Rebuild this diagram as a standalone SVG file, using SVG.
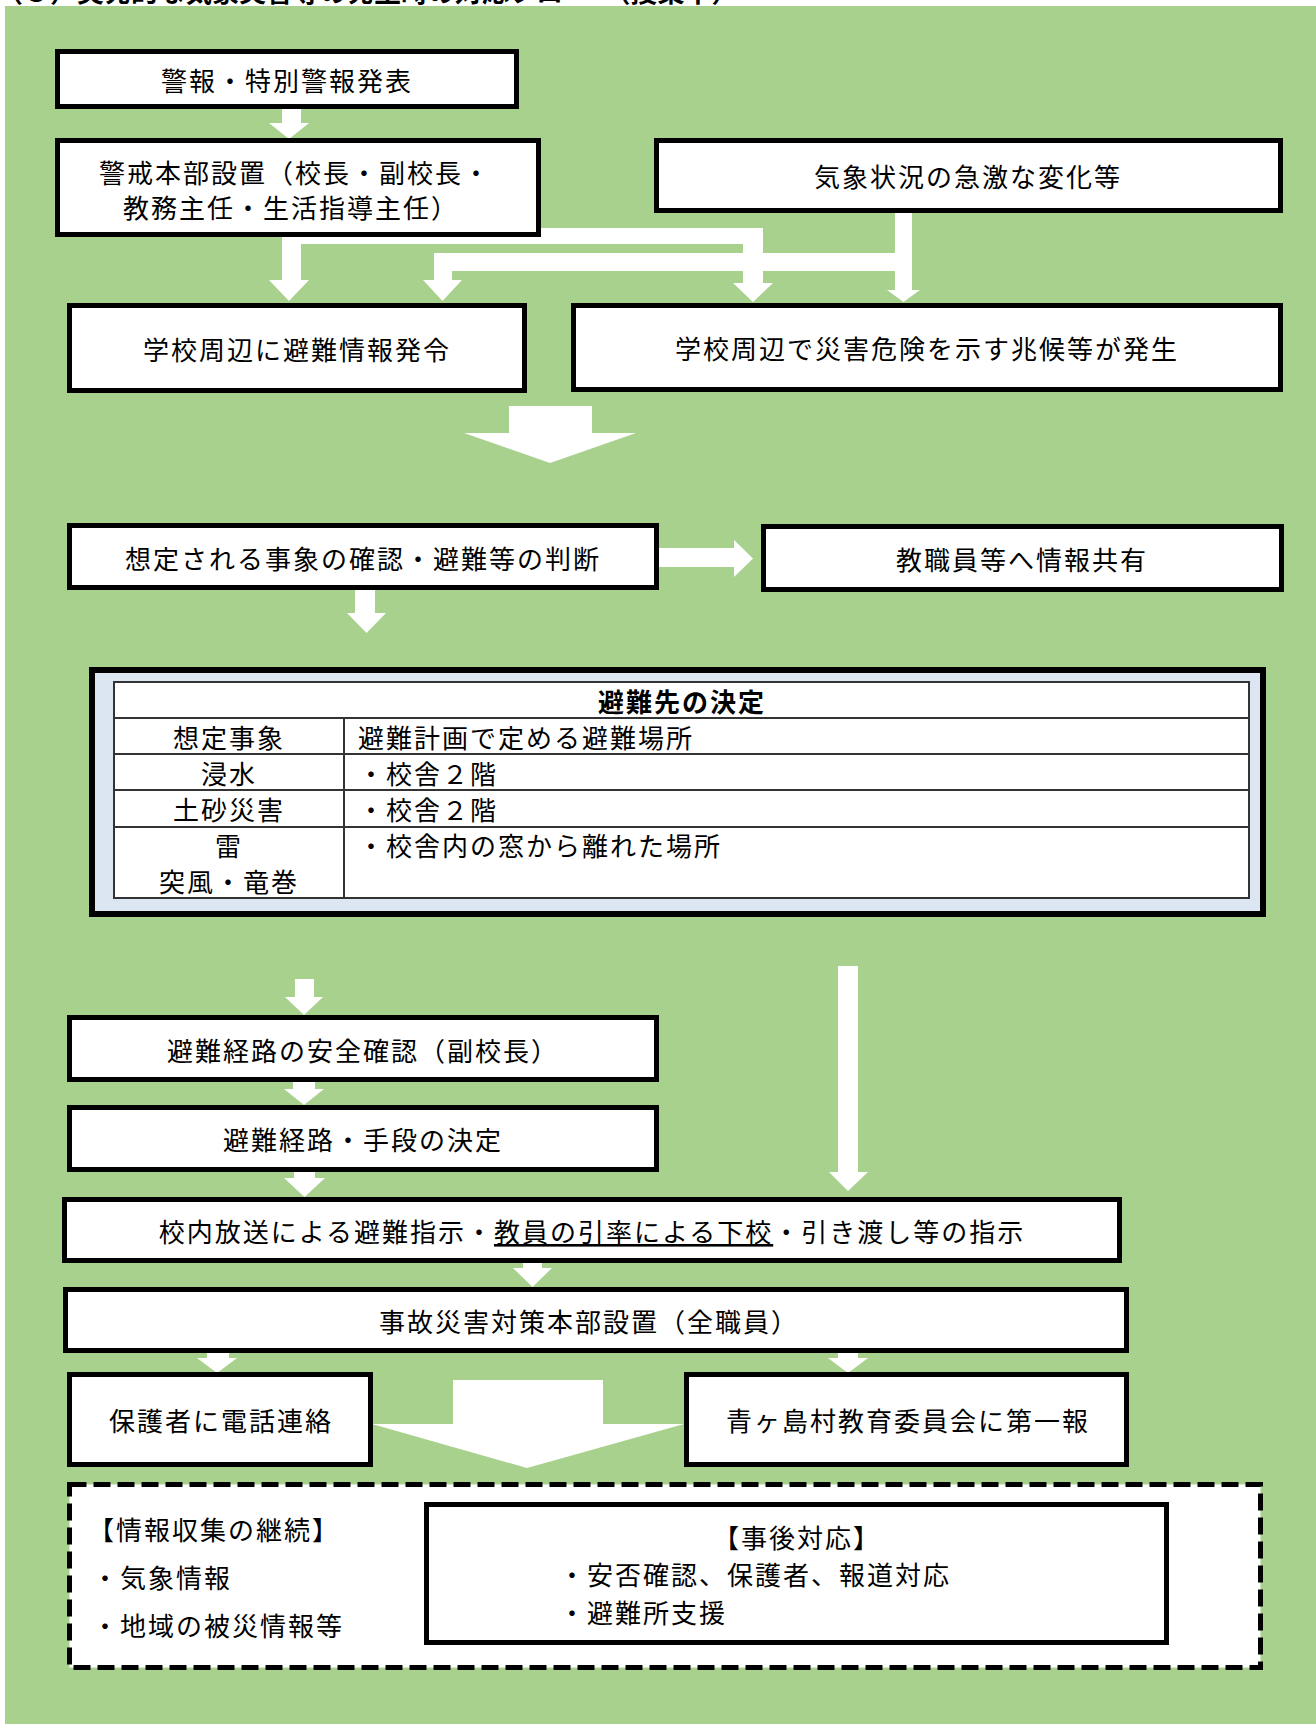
<svg xmlns="http://www.w3.org/2000/svg" width="1316" height="1724" viewBox="0 0 1316 1724">
<style>
.bx{fill:#fff;stroke:#000;stroke-width:5}
.ar{fill:#fff}
text{font-family:"Noto Sans CJK JP","Noto Sans",sans-serif;font-size:26px;letter-spacing:2px;fill:#000;dominant-baseline:central}
.c{text-anchor:middle}
.tl{stroke:#333;stroke-width:2;fill:none}
</style>
<rect x="0" y="0" width="1316" height="1724" fill="#fff"/>
<text x="-4" y="2" style="font-size:27px;font-weight:bold;letter-spacing:0;dominant-baseline:auto">（３）突発的な気象災害等の発生時の対応フロー　（授業中）</text>
<rect x="5" y="6" width="1311" height="1718" fill="#a9d18e"/>

<g id="connectors">
  <rect class="ar" x="282" y="108" width="19" height="16"/>
  <polygon class="ar" points="269,123 309,123 289,139"/>
  <rect class="ar" x="282" y="228" width="19" height="53"/>
  <polygon class="ar" points="269,280 309,280 289,301"/>
  <rect class="ar" x="282" y="228" width="481" height="16"/>
  <rect class="ar" x="743" y="228" width="20" height="56"/>
  <polygon class="ar" points="733,283 773,283 753,302"/>
  <rect class="ar" x="895" y="211" width="17" height="80"/>
  <polygon class="ar" points="887,290 920,290 903.5,302"/>
  <rect class="ar" x="434" y="253" width="478" height="18"/>
  <rect class="ar" x="434" y="253" width="18" height="28"/>
  <polygon class="ar" points="423,280 462,280 442.5,301"/>
  <rect class="ar" x="509" y="406" width="83" height="28"/>
  <polygon class="ar" points="464,433 636,433 550,463"/>
  <rect class="ar" x="657" y="548" width="78" height="19"/>
  <polygon class="ar" points="734,540 734,577 753,558.5"/>
  <rect class="ar" x="355" y="588" width="20" height="26"/>
  <polygon class="ar" points="347,613 386,613 366.5,633"/>
  <rect class="ar" x="295" y="979" width="19" height="19"/>
  <polygon class="ar" points="285,997 323,997 304,1015"/>
  <rect class="ar" x="293" y="1080" width="22" height="10"/>
  <polygon class="ar" points="284,1089 324,1089 304,1105"/>
  <rect class="ar" x="294" y="1170" width="21" height="9"/>
  <polygon class="ar" points="284,1178 325,1178 304.5,1197"/>
  <rect class="ar" x="838" y="966" width="20" height="207"/>
  <polygon class="ar" points="829,1172 868,1172 848,1191"/>
  <rect class="ar" x="523" y="1261" width="19" height="8"/>
  <polygon class="ar" points="513,1268 552,1268 532.5,1287"/>
  <rect class="ar" x="207" y="1351" width="22" height="8"/>
  <polygon class="ar" points="197,1358 237,1358 217,1373"/>
  <rect class="ar" x="838" y="1351" width="20" height="8"/>
  <polygon class="ar" points="828,1358 868,1358 848,1373"/>
  <rect class="ar" x="453" y="1380" width="150" height="45"/>
  <polygon class="ar" points="372,1424 684,1424 527,1468"/>
</g>

<g id="n-keiho"><rect class="bx" x="57.5" y="51.5" width="459" height="55"/><text class="c" x="287" y="79">警報・特別警報発表</text></g>
<g id="n-keikai"><rect class="bx" x="57.5" y="140.5" width="481" height="94"/><text class="c" x="295" y="171">警戒本部設置（校長・副校長・</text><text class="c" x="291" y="206">教務主任・生活指導主任）</text></g>
<g id="n-kisho"><rect class="bx" x="656.5" y="140.5" width="624" height="70"/><text class="c" x="968" y="175">気象状況の急激な変化等</text></g>
<g id="n-hatsurei"><rect class="bx" x="69.5" y="305.5" width="455" height="85"/><text class="c" x="297" y="348">学校周辺に避難情報発令</text></g>
<g id="n-choko"><rect class="bx" x="573.5" y="305.5" width="707" height="84"/><text class="c" x="927" y="347">学校周辺で災害危険を示す兆候等が発生</text></g>
<g id="n-sotei"><rect class="bx" x="69.5" y="525.5" width="587" height="62"/><text class="c" x="363" y="557">想定される事象の確認・避難等の判断</text></g>
<g id="n-kyoyu"><rect class="bx" x="763.5" y="526.5" width="518" height="63"/><text class="c" x="1022" y="558">教職員等へ情報共有</text></g>

<g id="n-table">
  <rect x="92" y="670" width="1171" height="244" fill="#dce6f2" stroke="#000" stroke-width="6"/>
  <rect x="114" y="682" width="1135" height="216" fill="#fff" stroke="#333" stroke-width="2"/>
  <path class="tl" d="M114 718H1249M114 754H1249M114 790H1249M114 827H1249M344 718V898"/>
  <text class="c" x="682" y="700" style="font-weight:bold">避難先の決定</text>
  <text class="c" x="229" y="736">想定事象</text>
  <text class="c" x="229" y="772">浸水</text>
  <text class="c" x="229" y="808">土砂災害</text>
  <text class="c" x="229" y="844">雷</text>
  <text class="c" x="229" y="880">突風・竜巻</text>
  <text x="358" y="736">避難計画で定める避難場所</text>
  <text x="358" y="772">・校舎２階</text>
  <text x="358" y="808">・校舎２階</text>
  <text x="358" y="844">・校舎内の窓から離れた場所</text>
</g>

<g id="n-anzen"><rect class="bx" x="69.5" y="1017.5" width="587" height="62"/><text class="c" x="363" y="1049">避難経路の安全確認（副校長）</text></g>
<g id="n-shudan"><rect class="bx" x="69.5" y="1107.5" width="587" height="62"/><text class="c" x="363" y="1138">避難経路・手段の決定</text></g>
<g id="n-konai"><rect class="bx" x="64.5" y="1199.5" width="1055" height="61"/><text class="c" x="592" y="1230">校内放送による避難指示・<tspan text-decoration="underline">教員の引率による下校</tspan>・引き渡し等の指示</text></g>
<g id="n-jiko"><rect class="bx" x="65.5" y="1289.5" width="1061" height="61"/><text class="c" x="589" y="1320">事故災害対策本部設置（全職員）</text></g>
<g id="n-hogosha"><rect class="bx" x="69.5" y="1374.5" width="301" height="90"/><text class="c" x="221" y="1419">保護者に電話連絡</text></g>
<g id="n-kyoiku"><rect class="bx" x="686.5" y="1374.5" width="440" height="90"/><text class="c" x="908" y="1419">青ヶ島村教育委員会に第一報</text></g>

<g id="n-keizoku">
  <rect x="69.5" y="1484.5" width="1191" height="183" fill="#fff" stroke="#000" stroke-width="5" stroke-dasharray="17 7"/>
  <text x="88" y="1528">【情報収集の継続】</text>
  <text x="92" y="1576">・気象情報</text>
  <text x="92" y="1624">・地域の被災情報等</text>
</g>
<g id="n-jigo">
  <rect class="bx" x="426.5" y="1504.5" width="740" height="138"/>
  <text class="c" x="797" y="1536">【事後対応】</text>
  <text x="559" y="1573">・安否確認、保護者、報道対応</text>
  <text x="559" y="1611">・避難所支援</text>
</g>
</svg>
